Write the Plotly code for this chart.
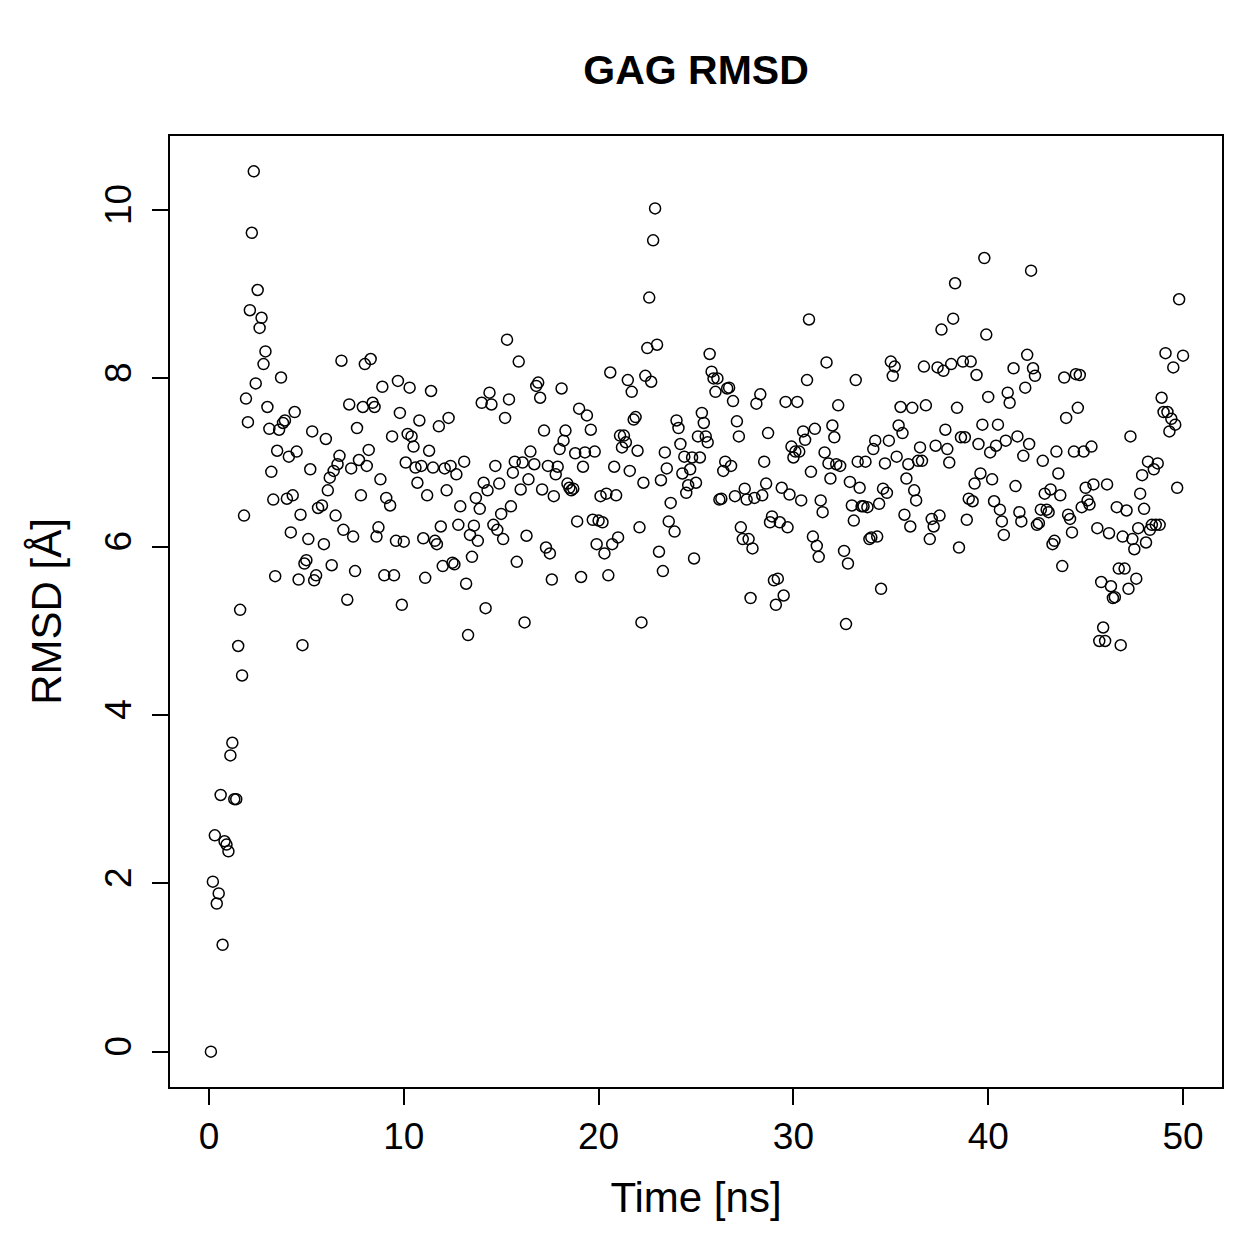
import plotly.graph_objects as go

# ---- data (time in ns, RMSD in Angstrom) ----
time_0_3 = [0.1, 0.2, 0.3, 0.4, 0.5, 0.6, 0.7, 0.8, 0.9, 1.0, 1.1, 1.2, 1.3, 1.4, 1.5,
            1.6, 1.7, 1.8, 1.9, 2.0, 2.1, 2.2, 2.3, 2.4, 2.5, 2.6, 2.7, 2.8, 2.9]
rmsd_0_3 = [0.00, 2.02, 2.57, 1.76, 1.88, 3.05, 1.27, 2.50, 2.46, 2.38, 3.52, 3.67, 3.00, 3.00, 4.82,
            5.25, 4.47, 6.37, 7.76, 7.48, 8.81, 9.73, 10.46, 7.94, 9.05, 8.60, 8.72, 8.17, 8.32]

time_3_10 = [3.0, 3.1, 3.2, 3.3, 3.4, 3.5, 3.6, 3.7, 3.8, 3.9,
             4.0, 4.1, 4.2, 4.3, 4.4, 4.5, 4.6, 4.7, 4.8, 4.9,
             5.0, 5.1, 5.2, 5.3, 5.4, 5.5, 5.6, 5.8, 5.9,
             6.0, 6.1, 6.2, 6.3, 6.4, 6.5, 6.6, 6.7, 6.8, 6.9,
             7.1, 7.2, 7.3, 7.4, 7.5, 7.6, 7.7, 7.8, 7.9,
             8.0, 8.1, 8.2, 8.3, 8.4, 8.5, 8.6, 8.7, 8.8, 8.9,
             9.0, 9.1, 9.3, 9.4, 9.5, 9.6, 9.7, 9.8, 9.9]
rmsd_3_10 = [7.66, 7.40, 6.89, 6.56, 5.65, 7.14, 7.39, 8.01, 7.47, 7.50,
             6.57, 7.07, 6.17, 6.61, 7.60, 7.13, 5.61, 6.38, 4.83, 5.80,
             5.84, 6.09, 6.92, 7.37, 5.60, 5.66, 6.46, 6.49, 6.03,
             7.28, 6.67, 6.82, 5.78, 6.90, 6.37, 6.98, 7.08, 8.21, 6.20,
             5.37, 7.69, 6.93, 6.12, 5.71, 7.41, 7.03, 6.61, 7.66,
             8.17, 6.96, 7.15, 8.23, 7.71, 7.66, 6.12, 6.23, 6.80, 7.90,
             5.66, 6.58, 6.49, 7.31, 5.66, 6.07, 7.97, 7.59, 5.31]

time_10_20 = [10.0, 10.1, 10.2, 10.3, 10.4, 10.5, 10.6, 10.7, 10.8, 10.9,
              11.0, 11.1, 11.2, 11.3, 11.4, 11.5, 11.6, 11.7, 11.8, 11.9,
              12.0, 12.1, 12.2, 12.3, 12.4, 12.5, 12.6, 12.7, 12.8, 12.9,
              13.1, 13.2, 13.3, 13.4, 13.5, 13.6, 13.7, 13.8, 13.9,
              14.0, 14.1, 14.2, 14.3, 14.4, 14.5, 14.6, 14.7, 14.8, 14.9,
              15.0, 15.1, 15.2, 15.3, 15.4, 15.5, 15.6, 15.7, 15.8, 15.9,
              16.0, 16.1, 16.2, 16.3, 16.4, 16.5, 16.7, 16.8, 16.9,
              17.0, 17.1, 17.2, 17.3, 17.4, 17.5, 17.6, 17.7, 17.8, 17.9,
              18.0, 18.1, 18.2, 18.3, 18.4, 18.5, 18.6, 18.7, 18.8, 18.9,
              19.0, 19.1, 19.2, 19.3, 19.4, 19.6, 19.7, 19.8, 19.9]
rmsd_10_20 = [6.06, 7.00, 7.34, 7.89, 7.31, 7.19, 6.94, 6.76, 7.50, 6.96,
              6.10, 5.63, 6.61, 7.14, 7.85, 6.94, 6.07, 6.03, 7.43, 6.24,
              5.77, 6.93, 6.67, 7.53, 6.96, 5.81, 5.79, 6.86, 6.26, 6.48,
              7.01, 5.56, 4.95, 6.14, 5.88, 6.25, 6.58, 6.07, 6.45,
              7.71, 6.76, 5.27, 6.67, 7.83, 7.69, 6.26, 6.96, 6.20, 6.75,
              6.39, 6.09, 7.53, 8.46, 7.75, 6.48, 6.88, 7.01, 5.82, 8.20,
              6.68, 7.00, 5.10, 6.13, 6.80, 7.13, 6.98, 7.91, 7.95,
              7.77, 6.68, 7.38, 5.99, 6.96, 5.92, 5.61, 6.60, 6.86, 6.95,
              7.16, 7.88, 7.26, 7.38, 6.75, 6.70, 6.67, 6.69, 7.11, 6.30,
              7.64, 5.64, 6.95, 7.12, 7.56, 7.39, 6.32, 7.13, 6.03]

time_20_30 = [20.0, 20.1, 20.2, 20.3, 20.4, 20.5, 20.6, 20.7, 20.8, 20.9,
              21.0, 21.1, 21.2, 21.3, 21.4, 21.5, 21.6, 21.7, 21.8, 21.9,
              22.0, 22.1, 22.2, 22.3, 22.4, 22.5, 22.6, 22.7, 22.8, 22.9,
              23.0, 23.1, 23.2, 23.3, 23.4, 23.5, 23.6, 23.7, 23.9,
              24.0, 24.1, 24.2, 24.3, 24.4, 24.5, 24.6, 24.7, 24.8, 24.9,
              25.0, 25.1, 25.2, 25.3, 25.4, 25.5, 25.6, 25.7, 25.8, 25.9,
              26.0, 26.1, 26.2, 26.3, 26.4, 26.5, 26.6, 26.7, 26.8, 26.9,
              27.0, 27.1, 27.2, 27.3, 27.4, 27.5, 27.6, 27.7, 27.8, 27.9,
              28.0, 28.1, 28.3, 28.4, 28.5, 28.6, 28.7, 28.8, 28.9,
              29.0, 29.1, 29.2, 29.3, 29.4, 29.5, 29.6, 29.7, 29.8, 29.9]
rmsd_20_30 = [6.31, 6.60, 6.29, 5.92, 6.63, 5.66, 8.07, 6.03, 6.95, 6.61,
              6.11, 7.32, 7.18, 7.32, 7.24, 7.98, 6.90, 7.84, 7.51, 7.54,
              7.14, 6.23, 5.10, 6.76, 8.03, 8.36, 8.96, 7.96, 9.64, 10.02,
              8.40, 5.94, 6.79, 5.71, 7.12, 6.93, 6.30, 6.52, 6.18,
              7.50, 7.41, 7.22, 6.87, 7.07, 6.64, 6.73, 6.92, 7.06, 5.86,
              6.76, 7.31, 7.06, 7.59, 7.47, 7.31, 7.24, 8.29, 8.08, 8.00,
              7.84, 8.00, 6.56, 6.57, 6.90, 7.01, 7.88, 7.89, 6.96, 7.73,
              6.60, 7.49, 7.31, 6.23, 6.09, 6.69, 6.56, 6.09, 5.39, 5.98,
              6.58, 7.70, 7.81, 6.61, 7.01, 6.75, 7.35, 6.29, 6.36,
              5.60, 5.31, 5.62, 6.29, 6.70, 5.42, 7.72, 6.23, 6.62, 7.19]

time_30_40 = [30.0, 30.1, 30.2, 30.3, 30.4, 30.5, 30.6, 30.7, 30.8, 30.9,
              31.0, 31.1, 31.2, 31.3, 31.4, 31.5, 31.6, 31.7, 31.8, 31.9,
              32.0, 32.1, 32.2, 32.3, 32.4, 32.6, 32.7, 32.8, 32.9,
              33.0, 33.1, 33.2, 33.3, 33.4, 33.5, 33.6, 33.7, 33.8, 33.9,
              34.0, 34.1, 34.2, 34.3, 34.4, 34.5, 34.6, 34.7, 34.8, 34.9,
              35.0, 35.1, 35.2, 35.3, 35.4, 35.5, 35.6, 35.7, 35.8, 35.9,
              36.0, 36.1, 36.2, 36.3, 36.4, 36.5, 36.6, 36.7, 36.8,
              37.0, 37.1, 37.2, 37.3, 37.4, 37.5, 37.6, 37.7, 37.8, 37.9,
              38.0, 38.1, 38.2, 38.3, 38.4, 38.5, 38.6, 38.7, 38.8, 38.9,
              39.0, 39.1, 39.2, 39.3, 39.4, 39.5, 39.6, 39.7, 39.8, 39.9]
rmsd_30_40 = [7.06, 7.13, 7.72, 7.13, 6.55, 7.37, 7.27, 7.98, 8.70, 6.89,
              6.12, 7.40, 6.01, 5.88, 6.55, 6.41, 7.12, 8.19, 6.99, 6.81,
              7.44, 7.30, 6.98, 7.68, 6.96, 5.95, 5.08, 5.80, 6.77,
              6.49, 6.31, 7.98, 7.01, 6.70, 6.48, 6.48, 7.01, 6.47, 6.09,
              6.11, 7.16, 7.26, 6.12, 6.51, 5.50, 6.69, 6.99, 6.64, 7.26,
              8.20, 8.03, 8.14, 7.07, 7.44, 7.66, 7.35, 6.38, 6.81, 6.98,
              6.24, 7.65, 6.67, 6.55, 7.02, 7.18, 7.02, 8.14, 7.68,
              6.09, 6.33, 6.24, 7.20, 8.13, 6.37, 8.58, 8.09, 7.39, 7.16,
              7.00, 8.17, 8.71, 9.13, 7.65, 5.99, 7.30, 8.20, 7.30, 6.32,
              6.57, 8.20, 6.54, 6.75, 8.04, 7.22, 6.87, 7.45, 9.43, 8.52]

time_40_50 = [40.0, 40.1, 40.2, 40.3, 40.4, 40.5, 40.6, 40.7, 40.8, 40.9,
              41.0, 41.1, 41.3, 41.4, 41.5, 41.6, 41.7, 41.8, 41.9,
              42.0, 42.1, 42.2, 42.3, 42.4, 42.5, 42.6, 42.7, 42.8, 42.9,
              43.0, 43.1, 43.2, 43.3, 43.4, 43.5, 43.6, 43.7, 43.8, 43.9,
              44.0, 44.1, 44.2, 44.3, 44.4, 44.5, 44.6, 44.7, 44.8, 44.9,
              45.0, 45.1, 45.2, 45.3, 45.4, 45.6, 45.7, 45.8, 45.9,
              46.0, 46.1, 46.2, 46.3, 46.4, 46.5, 46.6, 46.7, 46.8, 46.9,
              47.0, 47.1, 47.2, 47.3, 47.4, 47.5, 47.6, 47.7, 47.8, 47.9,
              48.0, 48.1, 48.2, 48.3, 48.4, 48.5, 48.6, 48.7, 48.8, 48.9,
              49.0, 49.1, 49.2, 49.3, 49.4, 49.5, 49.6, 49.7, 49.8, 50.0]
rmsd_40_50 = [7.78, 7.12, 6.80, 6.54, 7.20, 7.45, 6.44, 6.30, 6.14, 7.26,
              7.83, 7.71, 8.12, 6.72, 7.31, 6.41, 6.30, 7.08, 7.89,
              8.28, 7.22, 9.28, 8.12, 8.03, 6.26, 6.28, 6.44, 7.02, 6.63,
              6.44, 6.41, 6.68, 6.03, 6.07, 7.13, 6.87, 6.61, 5.77, 8.01,
              7.53, 6.38, 6.33, 6.17, 7.13, 8.05, 7.65, 8.04, 6.47, 7.13,
              6.70, 6.55, 6.50, 7.19, 6.74, 6.22, 4.88, 5.58, 5.04,
              4.88, 6.74, 6.16, 5.53, 5.39, 5.40, 6.47, 5.74, 4.83, 6.12,
              5.74, 6.43, 5.50, 7.31, 6.09, 5.97, 5.62, 6.22, 6.63, 6.85,
              6.45, 6.05, 7.01, 6.20, 6.26, 6.92, 6.26, 6.99, 6.26, 7.77,
              7.60, 8.30, 7.60, 7.37, 7.52, 8.13, 7.45, 6.70, 8.94, 8.27]

x_ticks = [0, 10, 20, 30, 40, 50]
y_ticks = [0, 2, 4, 6, 8, 10]

time_ns = time_0_3 + time_3_10 + time_10_20 + time_20_30 + time_30_40 + time_40_50
rmsd_a = rmsd_0_3 + rmsd_3_10 + rmsd_10_20 + rmsd_20_30 + rmsd_30_40 + rmsd_40_50
assert len(time_ns) == len(rmsd_a), (len(time_ns), len(rmsd_a))

FONT = "Liberation Sans, Arial, Helvetica, sans-serif"

fig = go.Figure(
    go.Scatter(
        x=time_ns, y=rmsd_a, mode="markers",
        marker=dict(symbol="circle-open", size=11, color="black",
                    line=dict(width=1.5, color="black")),
        hoverinfo="skip", showlegend=False,
    )
)

axis_common = dict(
    showgrid=False, zeroline=False,
    showline=True, linecolor="black", linewidth=2, mirror=True,
    ticks="outside", ticklen=16, tickwidth=2, tickcolor="black",
    tickfont=dict(family=FONT, size=37, color="black"),
)

fig.update_layout(
    width=1259, height=1259, autosize=False,
    paper_bgcolor="white", plot_bgcolor="white",
    margin=dict(l=170, r=37, t=136, b=172),
    font=dict(family=FONT, color="black"),
    title=dict(text="<b>GAG RMSD</b>", x=0.5, xref="paper", xanchor="center",
               y=1 - 70 / 1259, yref="container", yanchor="middle",
               font=dict(family=FONT, size=41, color="black")),
    xaxis=dict(range=[-2, 52], tickvals=x_ticks, ticktext=[str(v) for v in x_ticks],
               title=dict(text="Time [ns]", font=dict(family=FONT, size=42, color="black"),
                          standoff=26),
               **axis_common),
    yaxis=dict(range=[-0.42, 10.88], tickvals=y_ticks, ticktext=[str(v) for v in y_ticks],
               tickangle=-90, ticklabelstandoff=6,
               title=dict(text="RMSD [Å]", font=dict(family=FONT, size=42, color="black"),
                          standoff=24),
               **axis_common),
)

fig.write_html("out.html")
